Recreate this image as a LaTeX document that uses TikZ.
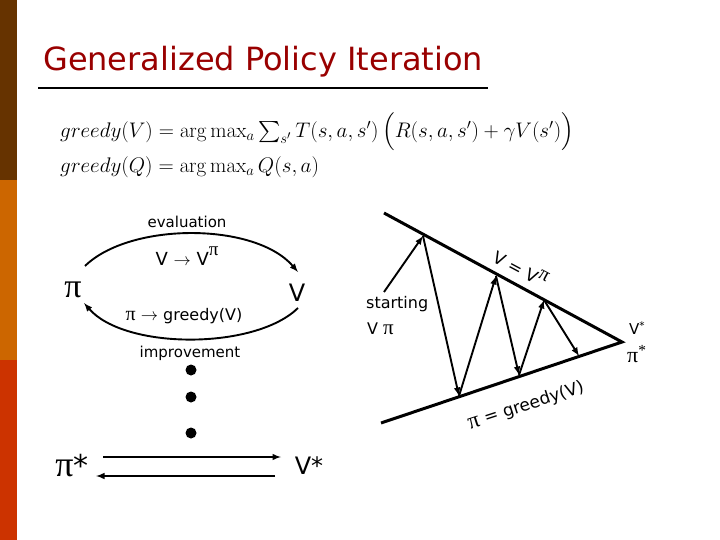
\documentclass[tikz,border=0pt]{standalone}
\usepackage{amsmath}
\usepackage{graphicx}
\usepackage[no-math]{fontspec}
\setmainfont{DejaVu Sans}
\newfontfamily\serifpi{Liberation Serif}
\newcommand{\bigpi}[1]{{\serifpi\fontsize{#1}{#1}\selectfont π}}
\begin{document}
\begin{tikzpicture}[x=1pt,y=-1pt,
  lbl/.style={inner sep=0pt,font=\fontsize{15}{17}\selectfont},
  arr/.style={-latex,line width=1.9pt},
  ln/.style={line width=3pt},
  dot/.style={circle,fill=black,inner sep=0pt,minimum width=11pt,minimum height=9pt}]
\useasboundingbox (0,0) rectangle (720,540);
\fill[fill={rgb,255:red,102;green,51;blue,0}] (0,0) rectangle (17,180);
\fill[fill={rgb,255:red,204;green,102;blue,0}] (0,180) rectangle (17,360);
\fill[fill={rgb,255:red,204;green,51;blue,0}] (0,360) rectangle (17,540);
\node[anchor=west,inner sep=0pt,font=\fontsize{32}{35}\selectfont,text={rgb,255:red,153;green,0;blue,0}] (title) at (43,62) {Generalized Policy Iteration};
\draw[line width=1.3pt] (38,88) -- (488,88);
\node[anchor=west,inner sep=0pt,font=\fontsize{17.28}{20}\selectfont] (eq1) at (60,132) {\scalebox{1.22}{$greedy(V)=\arg\max_a\sum_{s'}T(s,a,s')\left(R(s,a,s')+\gamma V(s')\vphantom{\Big(}\right)$}};
\node[anchor=west,inner sep=0pt,font=\fontsize{17.28}{20}\selectfont] (eq2) at (60,167) {\scalebox{1.22}{$greedy(Q)=\arg\max_a Q(s,a)$}};
% left cycle
\node[inner sep=0pt] (pi) at (73,290) {\bigpi{34}};
\node[inner sep=0pt,font=\fontsize{24}{26}\selectfont] (V) at (297,293) {V};
\node[lbl] (eval) at (187,222) {evaluation};
\node[lbl,font=\fontsize{18}{20}\selectfont] (vvp) at (187,256) {V $\rightarrow$ V\raisebox{1ex}{\bigpi{19}}};
\node[lbl,font=\fontsize{16}{18}\selectfont] (pg) at (184,316) {\bigpi{20} $\rightarrow$ greedy(V)};
\node[lbl] (impr) at (190,353) {improvement};
\draw[arr] (85,266) .. controls (130,222) and (255,222) .. (298,272);
\draw[arr] (298,308) .. controls (255,350) and (125,350) .. (84,303);
\node[dot] (d1) at (191,370) {};
\node[dot] (d2) at (191,397) {};
\node[dot] (d3) at (191,433) {};
\node[inner sep=0pt,font=\fontsize{30}{32}\selectfont] (pis) at (72,466) {\bigpi{36}*};
\node[inner sep=0pt,font=\fontsize{24}{26}\selectfont] (Vs) at (309,466) {V*};
\draw[arr] (103,457) -- (281,457);
\draw[arr] (275,476) -- (96,476);
% right diagram
\coordinate (t0) at (384,213);
\coordinate (tip) at (622,342);
\coordinate (b0) at (381,423);
\draw[ln] (t0) -- (tip) -- (b0);
\coordinate (s) at (384,292);
\coordinate (p1) at (423,236);
\coordinate (p2) at (459,396);
\coordinate (p3) at (496,276);
\coordinate (p4) at (519,375);
\coordinate (p5) at (544,300);
\coordinate (p6) at (579,356);
\draw[arr] (s) -- (p1);
\draw[arr] (p1) -- (p2);
\draw[arr] (p2) -- (p3);
\draw[arr] (p3) -- (p4);
\draw[arr] (p4) -- (p5);
\draw[arr] (p5) -- (p6);
\node[lbl,anchor=west,font=\fontsize{16}{18}\selectfont] (st) at (366,304) {starting};
\node[lbl,anchor=west,font=\fontsize{16}{18}\selectfont] (vpi) at (367,329) {V \bigpi{21}};
\node[lbl,font=\fontsize{17}{19}\selectfont,rotate=-28] (vv) at (521,268) {V = V\raisebox{0.8ex}{\bigpi{20}}};
\node[lbl,font=\fontsize{17}{19}\selectfont,rotate=18] (pgv) at (526,406) {\bigpi{23} = greedy(V)};
\node[lbl,anchor=west,font=\fontsize{15}{17}\selectfont] (vstar) at (629,328) {V\textsuperscript{*}};
\node[lbl,anchor=west,font=\serifpi\fontsize{22}{24}\selectfont] (pistar) at (627,354) {π\textsuperscript{*}};
\end{tikzpicture}
\end{document}
